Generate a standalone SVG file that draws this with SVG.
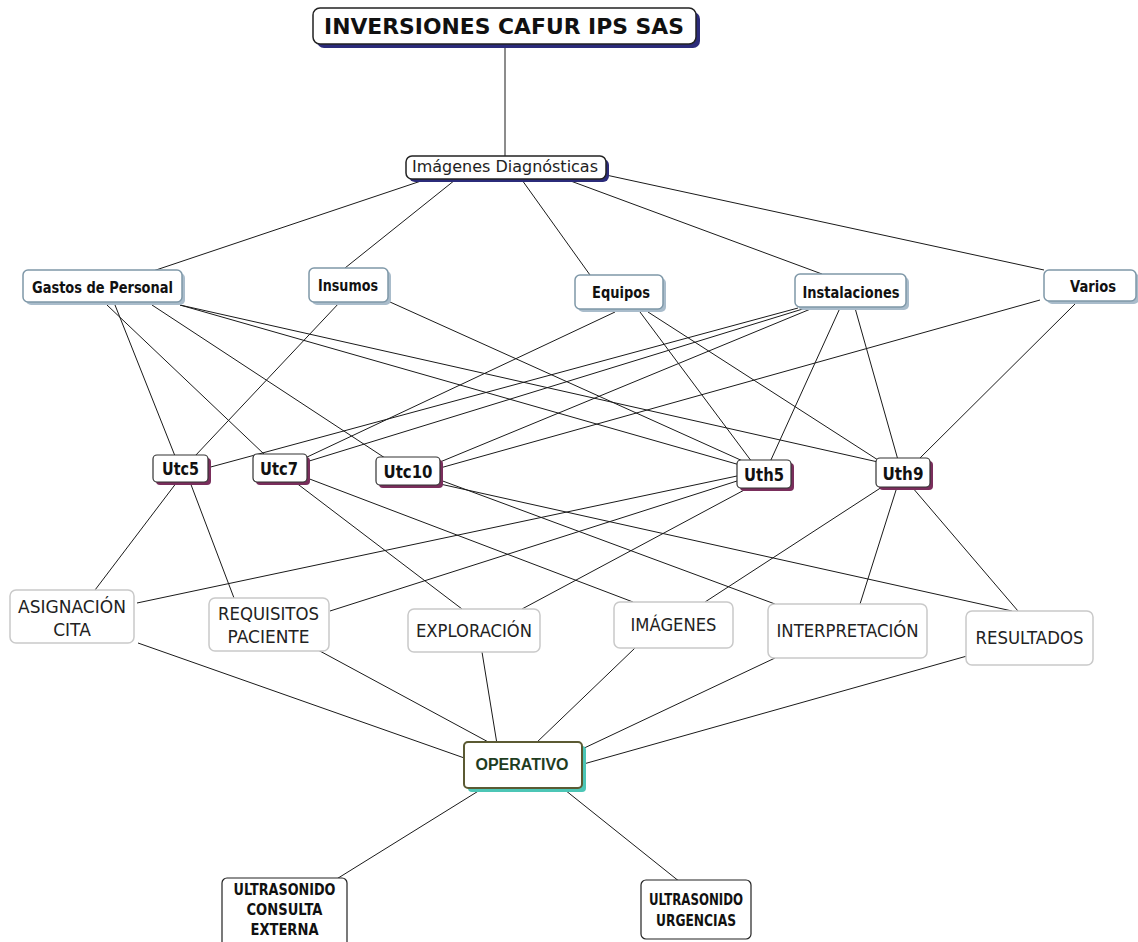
<svg xmlns="http://www.w3.org/2000/svg" width="1138" height="942" viewBox="0 0 1138 942">
<defs>
<style>
.bg{fill:#ffffff}
.ln{stroke:#1a1a1a;stroke-width:1;fill:none}
.t1s{fill:#2b2b7a}
.t1{fill:#fff;stroke:#222;stroke-width:1.5}
.t2s{fill:#a9bccb}
.t2{fill:#fff;stroke:#7f98a8;stroke-width:1.5}
.t3s{fill:#7a2e5c}
.t3{fill:#fff;stroke:#333;stroke-width:1.2}
.t4{fill:#fff;stroke:#c9c9c9;stroke-width:1.5}
.t5s{fill:#4cc6b6}
.t5{fill:#fff;stroke:#5b5a33;stroke-width:2}
.t6{fill:#fff;stroke:#222;stroke-width:1.2}
.tb{font-family:"DejaVu Sans",Verdana,sans-serif;font-weight:bold;fill:#111;text-anchor:middle}
.tr{font-family:"DejaVu Sans",Verdana,sans-serif;fill:#222;text-anchor:middle}
.top{font-family:"Liberation Sans",Arial,sans-serif;font-weight:bold;fill:#1f3d1f;text-anchor:middle}
</style>
</defs>
<rect class="bg" x="0" y="0" width="1138" height="942"/>
<g id="connectors">
<line class="ln" x1="505" y1="44" x2="505" y2="156"/>
<line class="ln" x1="150" y1="272" x2="430" y2="178"/>
<line class="ln" x1="345" y1="268" x2="455" y2="180"/>
<line class="ln" x1="522" y1="180" x2="590" y2="275"/>
<line class="ln" x1="568" y1="180" x2="822" y2="274"/>
<line class="ln" x1="606" y1="175" x2="1044" y2="270"/>
<line class="ln" x1="115" y1="305" x2="175" y2="456"/>
<line class="ln" x1="107" y1="305" x2="265" y2="455"/>
<line class="ln" x1="152" y1="305" x2="385" y2="458"/>
<line class="ln" x1="180" y1="305" x2="740" y2="465"/>
<line class="ln" x1="180" y1="305" x2="878" y2="462"/>
<line class="ln" x1="340" y1="302" x2="195" y2="456"/>
<line class="ln" x1="390" y1="302" x2="745" y2="462"/>
<line class="ln" x1="615" y1="312" x2="305" y2="458"/>
<line class="ln" x1="640" y1="312" x2="752" y2="462"/>
<line class="ln" x1="648" y1="312" x2="878" y2="460"/>
<line class="ln" x1="798" y1="308" x2="207" y2="468"/>
<line class="ln" x1="806" y1="308" x2="306" y2="462"/>
<line class="ln" x1="813" y1="308" x2="440" y2="462"/>
<line class="ln" x1="840" y1="308" x2="770" y2="462"/>
<line class="ln" x1="855" y1="308" x2="898" y2="460"/>
<line class="ln" x1="1040" y1="300" x2="440" y2="468"/>
<line class="ln" x1="1077" y1="302" x2="918" y2="460"/>
<line class="ln" x1="177" y1="482" x2="95" y2="590"/>
<line class="ln" x1="190" y1="482" x2="234" y2="598"/>
<line class="ln" x1="295" y1="482" x2="462" y2="609"/>
<line class="ln" x1="307" y1="478" x2="633" y2="602"/>
<line class="ln" x1="440" y1="480" x2="775" y2="604"/>
<line class="ln" x1="440" y1="484" x2="1012" y2="611"/>
<line class="ln" x1="737" y1="476" x2="137" y2="603"/>
<line class="ln" x1="737" y1="481" x2="330" y2="611"/>
<line class="ln" x1="748" y1="488" x2="522" y2="609"/>
<line class="ln" x1="882" y1="487" x2="705" y2="602"/>
<line class="ln" x1="897" y1="487" x2="860" y2="604"/>
<line class="ln" x1="912" y1="487" x2="1018" y2="611"/>
<line class="ln" x1="138" y1="643" x2="470" y2="760"/>
<line class="ln" x1="318" y1="650" x2="492" y2="744"/>
<line class="ln" x1="482" y1="652" x2="497" y2="744"/>
<line class="ln" x1="635" y1="648" x2="535" y2="744"/>
<line class="ln" x1="775" y1="658" x2="580" y2="750"/>
<line class="ln" x1="967" y1="656" x2="580" y2="765"/>
<line class="ln" x1="480" y1="790" x2="335" y2="880"/>
<line class="ln" x1="565" y1="790" x2="680" y2="882"/>
</g>
<g id="n-inversiones">
<rect class="t1s" x="317" y="12" width="383" height="36" rx="7"/>
<rect class="t1" x="313" y="8" width="383" height="36" rx="7"/>
<text class="tb" x="504" y="34" font-size="21" textLength="360" lengthAdjust="spacingAndGlyphs">INVERSIONES CAFUR IPS SAS</text>
</g>
<g id="n-imagenes-diag">
<rect class="t1s" x="409" y="159" width="200" height="23" rx="6"/>
<rect class="t1" x="406" y="156" width="200" height="23" rx="6"/>
<text class="tr" x="505" y="172" font-size="16" fill="#111" textLength="186" lengthAdjust="spacingAndGlyphs">Imágenes Diagnósticas</text>
</g>
<g id="n-gastos">
<rect class="t2s" x="26" y="273" width="159" height="32" rx="5"/>
<rect class="t2" x="23" y="270" width="159" height="32" rx="5"/>
<text class="tb" x="102.5" y="292.5" font-size="16.5" textLength="141" lengthAdjust="spacingAndGlyphs">Gastos de Personal</text>
</g>
<g id="n-insumos">
<rect class="t2s" x="312" y="271" width="79" height="34" rx="5"/>
<rect class="t2" x="309" y="268" width="79" height="34" rx="5"/>
<text class="tb" x="348" y="291" font-size="16.5" textLength="60" lengthAdjust="spacingAndGlyphs">Insumos</text>
</g>
<g id="n-equipos">
<rect class="t2s" x="578" y="278" width="88" height="34" rx="5"/>
<rect class="t2" x="575" y="275" width="88" height="34" rx="5"/>
<text class="tb" x="621" y="298" font-size="16.5" textLength="58" lengthAdjust="spacingAndGlyphs">Equipos</text>
</g>
<g id="n-instalaciones">
<rect class="t2s" x="798" y="277" width="111" height="33" rx="5"/>
<rect class="t2" x="795" y="274" width="111" height="33" rx="5"/>
<text class="tb" x="851" y="297.5" font-size="16.5" textLength="97" lengthAdjust="spacingAndGlyphs">Instalaciones</text>
</g>
<g id="n-varios">
<rect class="t2s" x="1047" y="273" width="92" height="31" rx="5"/>
<rect class="t2" x="1044" y="270" width="92" height="31" rx="5"/>
<text class="tb" x="1093" y="292" font-size="16.5" textLength="46" lengthAdjust="spacingAndGlyphs">Varios</text>
</g>
<g id="n-utc5">
<rect class="t3s" x="156" y="458" width="55" height="27" rx="4"/>
<rect class="t3" x="153" y="455" width="55" height="27" rx="4"/>
<text class="tb" x="180.5" y="475" font-size="18" textLength="37" lengthAdjust="spacingAndGlyphs">Utc5</text>
</g>
<g id="n-utc7">
<rect class="t3s" x="256" y="457" width="54" height="28" rx="4"/>
<rect class="t3" x="253" y="454" width="54" height="28" rx="4"/>
<text class="tb" x="279" y="475" font-size="18" textLength="38" lengthAdjust="spacingAndGlyphs">Utc7</text>
</g>
<g id="n-utc10">
<rect class="t3s" x="379" y="460" width="64" height="28" rx="4"/>
<rect class="t3" x="376" y="457" width="64" height="28" rx="4"/>
<text class="tb" x="408" y="478" font-size="18" textLength="49" lengthAdjust="spacingAndGlyphs">Utc10</text>
</g>
<g id="n-uth5">
<rect class="t3s" x="740" y="463" width="54" height="28" rx="4"/>
<rect class="t3" x="737" y="460" width="54" height="28" rx="4"/>
<text class="tb" x="764" y="481" font-size="18" textLength="40" lengthAdjust="spacingAndGlyphs">Uth5</text>
</g>
<g id="n-uth9">
<rect class="t3s" x="879" y="461" width="54" height="29" rx="4"/>
<rect class="t3" x="876" y="458" width="54" height="29" rx="4"/>
<text class="tb" x="903" y="479.5" font-size="18" textLength="41" lengthAdjust="spacingAndGlyphs">Uth9</text>
</g>
<g id="n-asignacion">
<rect class="t4" x="10" y="590" width="124" height="53" rx="6"/>
<text class="tr" x="72" y="613" font-size="17" textLength="108" lengthAdjust="spacingAndGlyphs">ASIGNACIÓN</text>
<text class="tr" x="72" y="636" font-size="17">CITA</text>
</g>
<g id="n-requisitos">
<rect class="t4" x="209" y="598" width="120" height="53" rx="6"/>
<text class="tr" x="268.5" y="620" font-size="17" textLength="101" lengthAdjust="spacingAndGlyphs">REQUISITOS</text>
<text class="tr" x="268.5" y="643" font-size="17">PACIENTE</text>
</g>
<g id="n-exploracion">
<rect class="t4" x="408" y="609" width="132" height="43" rx="6"/>
<text class="tr" x="474" y="637" font-size="17" textLength="116" lengthAdjust="spacingAndGlyphs">EXPLORACIÓN</text>
</g>
<g id="n-imagenes">
<rect class="t4" x="614" y="602" width="119" height="46" rx="6"/>
<text class="tr" x="673.5" y="631" font-size="17" textLength="86" lengthAdjust="spacingAndGlyphs">IMÁGENES</text>
</g>
<g id="n-interpretacion">
<rect class="t4" x="768" y="604" width="159" height="54" rx="6"/>
<text class="tr" x="847.5" y="637" font-size="17" textLength="142" lengthAdjust="spacingAndGlyphs">INTERPRETACIÓN</text>
</g>
<g id="n-resultados">
<rect class="t4" x="966" y="611" width="127" height="54" rx="6"/>
<text class="tr" x="1029.5" y="644" font-size="17" textLength="108" lengthAdjust="spacingAndGlyphs">RESULTADOS</text>
</g>
<g id="n-operativo">
<rect class="t5s" x="468" y="746" width="118" height="46" rx="4"/>
<rect class="t5" x="464" y="742" width="118" height="46" rx="4"/>
<text class="top" x="522" y="770" font-size="16" textLength="93" lengthAdjust="spacingAndGlyphs">OPERATIVO</text>
</g>
<g id="n-ultra-ce">
<rect class="t6" x="222" y="878" width="125" height="72" rx="5"/>
<text class="tb" x="284.5" y="895" font-size="15.5" textLength="102" lengthAdjust="spacingAndGlyphs">ULTRASONIDO</text>
<text class="tb" x="284.5" y="915" font-size="15.5" textLength="76" lengthAdjust="spacingAndGlyphs">CONSULTA</text>
<text class="tb" x="284.5" y="935" font-size="15.5" textLength="68" lengthAdjust="spacingAndGlyphs">EXTERNA</text>
</g>
<g id="n-ultra-urg">
<rect class="t6" x="641" y="880" width="110" height="59" rx="5"/>
<text class="tb" x="696" y="905" font-size="15.5" textLength="94" lengthAdjust="spacingAndGlyphs">ULTRASONIDO</text>
<text class="tb" x="696" y="926" font-size="15.5" textLength="80" lengthAdjust="spacingAndGlyphs">URGENCIAS</text>
</g>
</svg>
